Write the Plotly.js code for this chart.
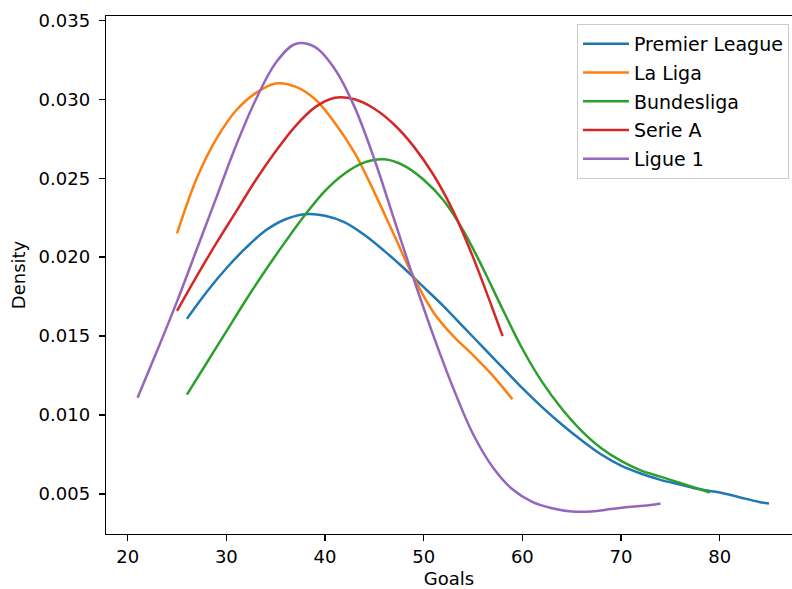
<!DOCTYPE html>
<html>
<head>
<meta charset="utf-8">
<script src="https://cdn.plot.ly/plotly-3.0.1.min.js"></script>
<style>html,body{margin:0;padding:0;background:#fff;}#chart{width:792px;height:589px;}</style>
</head>
<body>
<div id="chart"></div>
<script>
// Density curves of goals per league
const leagues = ["Premier League", "La Liga", "Bundesliga", "Serie A", "Ligue 1"];
const colors = ["#1f77b4", "#ff7f0e", "#2ca02c", "#d62728", "#9467bd"];

const plGoals = [26,28,30,32,34,36,38,40,42,44,46,48,50,52,54,56,58,60,62,64,66,68,70,72,74,76,78,80,82,84,85];
const plDensity = [0.0161,0.0178,0.0193,0.0206,0.0217,0.0224,0.02272,0.02262,0.0222,0.0214,0.0204,0.0193,0.0181,0.0169,0.0156,0.0143,0.0130,0.0117,0.0105,0.0094,0.0084,0.0075,0.0068,0.0063,0.0059,0.0056,0.0053,0.0051,0.0048,0.0045,0.0044];

const laligaGoals = [25,27,29,31,33,35,37,39,41,43,45,47,49,51,53,55,57,59];
const laligaDensity = [0.0215,0.0250,0.0275,0.0293,0.0304,0.0310,0.0308,0.0300,0.0285,0.0266,0.0241,0.0214,0.0187,0.0165,0.0150,0.0138,0.0125,0.0110];

const bundesGoals = [26,28,30,32,34,36,38,40,42,44,46,48,50,52,54,56,58,60,62,64,66,68,70,72,74,76,78,79];
const bundesDensity = [0.0113,0.0133,0.0153,0.0173,0.0192,0.0210,0.0227,0.0242,0.0253,0.0260,0.0262,0.0258,0.0249,0.0236,0.0217,0.0193,0.0167,0.0142,0.0121,0.0104,0.0090,0.0079,0.0071,0.0065,0.0061,0.0057,0.0053,0.0051];

const serieaGoals = [25,27,29,31,33,35,37,39,41,43,45,47,49,51,53,55,57,58];
const serieaDensity = [0.0166,0.0188,0.0209,0.0229,0.0249,0.0267,0.0283,0.0295,0.0301,0.0300,0.0294,0.0284,0.0270,0.0252,0.0229,0.0200,0.0167,0.0150];

const ligue1Goals = [21,23,25,27,29,31,33,35,37,39,41,43,45,47,49,51,53,55,57,59,61,63,65,67,69,71,73,74];
const ligue1Density = [0.0111,0.0141,0.0172,0.0205,0.0238,0.0271,0.0300,0.0323,0.0335,0.0333,0.0319,0.0295,0.0262,0.0224,0.0186,0.0150,0.0117,0.0088,0.0067,0.0053,0.0045,0.0041,0.0039,0.0039,0.00405,0.0042,0.0043,0.0044];

const xs = [plGoals, laligaGoals, bundesGoals, serieaGoals, ligue1Goals];
const ys = [plDensity, laligaDensity, bundesDensity, serieaDensity, ligue1Density];

const yTicks = [0.005,0.010,0.015,0.020,0.025,0.030,0.035];
const xTicks = [20,30,40,50,60,70,80];

const traces = leagues.map((name, i) => ({
  type: "scatter", mode: "lines", name: name,
  x: xs[i], y: ys[i],
  line: {color: colors[i], width: 2.5, shape: "spline", smoothing: 1},
  legendgroup: "g" + i
}));

const font = {family: "DejaVu Sans, sans-serif", size: 18, color: "#000"};
const legendFont = {family: "DejaVu Sans, sans-serif", size: 19, color: "#000"};

const layout = {
  width: 792, height: 589,
  margin: {l: 106, r: 0, t: 16, b: 55},
  paper_bgcolor: "#fff", plot_bgcolor: "#fff",
  font: font,
  showlegend: true,
  legend: {
    x: 0.9956, xanchor: "right", y: 0.9846, yanchor: "top",
    bgcolor: "rgba(255,255,255,0.8)", bordercolor: "#cccccc", borderwidth: 1,
    font: legendFont, traceorder: "grouped", tracegroupgap: 1, itemwidth: 46
  },
  xaxis: {
    range: [17.8, 87.33], tickvals: xTicks, ticktext: xTicks.map(String),
    showgrid: false, zeroline: false,
    showline: true, linecolor: "#000", linewidth: 1.3, mirror: true,
    ticks: "outside", ticklen: 6, tickwidth: 1.3, tickcolor: "#000",
    tickfont: font,
    title: {text: "Goals", font: font, standoff: 8},
    automargin: false
  },
  yaxis: {
    range: [0.00247, 0.03527], tickvals: yTicks, ticktext: yTicks.map(v => v.toFixed(3)),
    showgrid: false, zeroline: false,
    showline: true, linecolor: "#000", linewidth: 1.3, mirror: false,
    ticks: "outside", ticklen: 6, tickwidth: 1.3, tickcolor: "#000",
    tickfont: font, ticklabelstandoff: 5,
    title: {text: "Density", font: font, standoff: 8},
    automargin: false
  }
};

Plotly.newPlot("chart", traces, layout, {displayModeBar: false, staticPlot: true});
</script>
</body>
</html>
